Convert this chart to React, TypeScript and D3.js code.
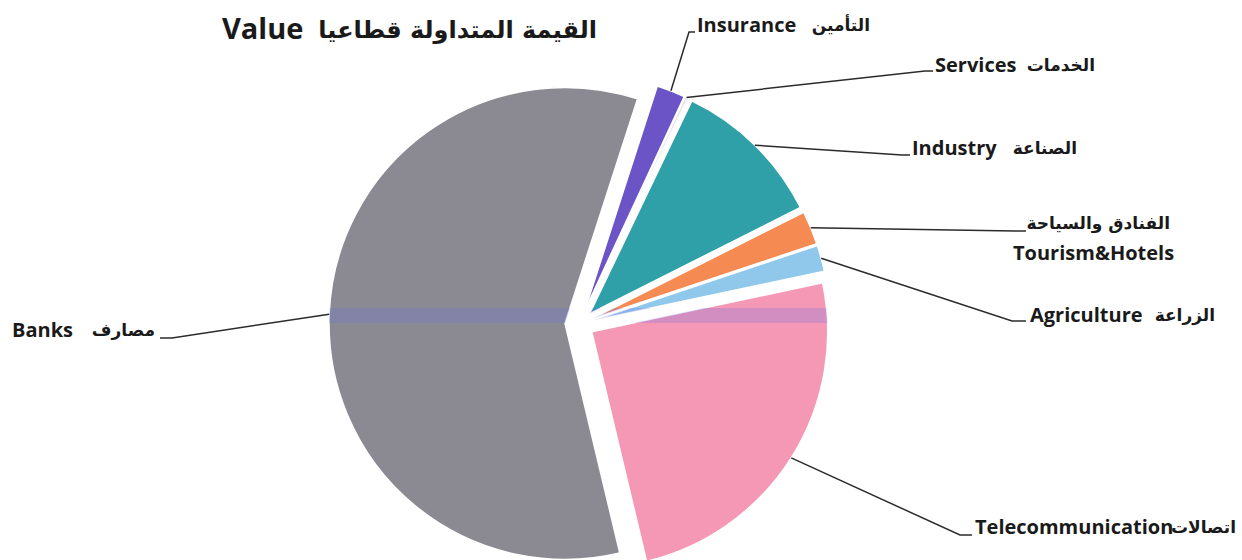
import React from "react";
import * as d3 from "d3";

const W = 1242;
const H = 560;

// ---- data ----
const categories = ["Insurance", "Services", "Industry", "Tourism&Hotels", "Agriculture", "Telecommunication", "Banks"];
const arabicNames = ["التأمين", "الخدمات", "الصناعة", "الفنادق والسياحة", "الزراعة", "اتصالات", "مصارف"];
const values = [1.95, 0.2, 10.45, 2.3, 1.8, 24.6, 58.7];
const colors = ["#6b55c6", "#e4def2", "#2f9fa8", "#f58a52", "#90c8ec", "#f598b5", "#8b8a93"];
const titleEn = "Value";
const titleAr = "القيمة المتداولة قطاعيا";

// ---- layout ----
const CX = 579.5;
const CY = 324;
const R = 236;
const EXPLODE = 14.5;
const START = (17.9 * Math.PI) / 180;

// label layout: [enX, enY, arRight, arY, elbowX, elbowY, endX]
const labelLayout: Record<string, number[]> = {
  Insurance: [697, 32, 870, 31, 689, 32, 695],
  Services: [935, 72, 1095, 71, 925, 71, 933],
  Industry: [912, 155, 1077, 154, 902, 155, 910],
  "Tourism&Hotels": [1013, 260, 1170, 229, 1015, 231, 1026],
  Agriculture: [1030, 322, 1215, 321, 1012, 321, 1026],
  Telecommunication: [975, 534, 1236, 533, 960, 535, 972],
  Banks: [12, 337, 155, 336, 172, 338, 160],
};

const enFont = "'Open Sans', 'Noto Sans', sans-serif";
const arFont = "'DejaVu Sans', sans-serif";

export default function App() {
  const pie = d3
    .pie<number>()
    .sort(null)
    .value((d) => d)
    .startAngle(START)
    .endAngle(START + 2 * Math.PI);
  const arcs = pie(values);
  const arcGen = d3.arc<d3.PieArcDatum<number>>().innerRadius(0).outerRadius(R);

  const offset = (a: d3.PieArcDatum<number>) => {
    const m = (a.startAngle + a.endAngle) / 2;
    return [EXPLODE * Math.sin(m), -EXPLODE * Math.cos(m)];
  };

  return (
    <svg
      width={W}
      height={H}
      viewBox={`0 0 ${W} ${H}`}
      style={{ position: "absolute", left: 0, top: 0, background: "#ffffff" }}
    >
      <defs>
        <clipPath id="pieClip">
          {arcs.map((a, i) => {
            const [ox, oy] = offset(a);
            return <path key={i} d={arcGen(a) || ""} transform={`translate(${CX + ox},${CY + oy})`} />;
          })}
        </clipPath>
      </defs>

      {/* slices */}
      {arcs.map((a, i) => {
        const [ox, oy] = offset(a);
        return (
          <path
            key={categories[i]}
            d={arcGen(a) || ""}
            transform={`translate(${CX + ox},${CY + oy})`}
            fill={colors[i]}
            stroke="#ffffff"
            strokeWidth={1.5}
          />
        );
      })}

      {/* scan band across the pie */}
      <rect x={CX - R - 30} y={CY - 16} width={2 * R + 60} height={15} fill="#6a6ee8" opacity={0.25} clipPath="url(#pieClip)" />

      {/* leader lines */}
      {arcs.map((a, i) => {
        const [ox, oy] = offset(a);
        const m = (a.startAngle + a.endAngle) / 2;
        const sx = CX + ox + R * Math.sin(m);
        const sy = CY + oy - R * Math.cos(m);
        const L = labelLayout[categories[i]];
        return (
          <polyline
            key={"l" + i}
            points={`${sx},${sy} ${L[4]},${L[5]} ${L[6]},${L[5]}`}
            fill="none"
            stroke="#2b2b2b"
            strokeWidth={1.5}
          />
        );
      })}

      {/* labels */}
      {categories.map((c, i) => {
        const L = labelLayout[c];
        return (
          <g key={"t" + i}>
            <text x={L[0]} y={L[1]} fontFamily={enFont} fontWeight="bold" fontSize={20} fill="#1a1a1a">
              {c}
            </text>
            <text
              x={L[2]}
              y={L[3]}
              textAnchor="end"
              fontFamily={arFont}
              fontWeight="bold"
              fontSize={17}
              fill="#1a1a1a"
            >
              {arabicNames[i]}
            </text>
          </g>
        );
      })}

      {/* title */}
      <text x={222} y={39} fontFamily={enFont} fontWeight="bold" fontSize={29} fill="#1a1a1a">
        {titleEn}
      </text>
      <text x={597} y={38} textAnchor="end" fontFamily={arFont} fontWeight="bold" fontSize={24} fill="#1a1a1a">
        {titleAr}
      </text>
    </svg>
  );
}
